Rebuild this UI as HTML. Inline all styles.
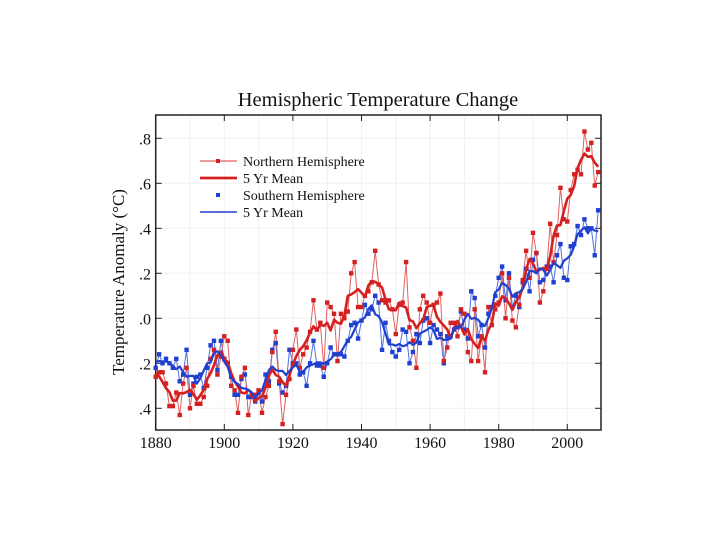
<!DOCTYPE html>
<html><head><meta charset="utf-8"><style>
body{margin:0;background:#fff;}
svg text{font-family:"Liberation Serif",serif;fill:#111;}
</style></head><body>
<svg id="chart" width="720" height="540" xmlns="http://www.w3.org/2000/svg">
<text x="378" y="106" text-anchor="middle" font-size="20.5">Hemispheric Temperature Change</text>
<text transform="translate(124,282) rotate(-90)" text-anchor="middle" font-size="17">Temperature Anomaly (°C)</text>
<g id="grid"></g>
<g id="axes"></g>
<g id="series"></g>
<g>
<line x1="200" y1="161" x2="237" y2="161" stroke="#e06060" stroke-width="1.2"/>
<rect x="216" y="159" width="4" height="4" fill="#d42020"/>
<text x="243" y="166" font-size="14">Northern Hemisphere</text>
<line x1="200" y1="178" x2="237" y2="178" stroke="#d42020" stroke-width="2.8"/>
<text x="243" y="183" font-size="14">5  Yr Mean</text>
<rect x="216" y="193" width="4" height="4" fill="#2040d0"/>
<text x="243" y="200" font-size="14">Southern Hemisphere</text>
<line x1="200" y1="212" x2="237" y2="212" stroke="#2040d0" stroke-width="1.6"/>
<text x="243" y="217" font-size="14">5  Yr Mean</text>
</g>
</svg>
<script>
const startYear = 1880;
const northValues = [-0.26,-0.24,-0.24,-0.29,-0.39,-0.39,-0.33,-0.43,-0.29,-0.22,
-0.40,-0.30,-0.38,-0.38,-0.35,-0.30,-0.18,-0.14,-0.25,-0.17,
-0.08,-0.10,-0.30,-0.32,-0.42,-0.26,-0.22,-0.43,-0.34,-0.34,
-0.32,-0.42,-0.35,-0.30,-0.15,-0.06,-0.28,-0.47,-0.34,-0.27,
-0.14,-0.05,-0.22,-0.16,-0.13,-0.06,0.08,-0.05,-0.02,-0.22,
0.07,0.05,0.02,-0.19,0.02,0.00,0.03,0.20,0.25,0.05,
0.05,0.10,0.12,0.16,0.30,0.15,0.08,0.07,0.08,0.04,
-0.07,0.06,0.07,0.25,-0.04,-0.10,-0.22,0.04,0.10,0.07,
-0.02,0.06,0.07,0.11,-0.19,-0.13,-0.02,-0.02,-0.08,0.04,
0.02,-0.15,-0.19,0.04,-0.19,-0.08,-0.24,0.05,-0.03,0.04,
0.07,0.20,0.00,0.18,-0.01,-0.04,0.06,0.17,0.30,0.18,
0.38,0.29,0.07,0.12,0.22,0.42,0.25,0.37,0.58,0.44,
0.43,0.57,0.64,0.66,0.64,0.83,0.75,0.78,0.59,0.65];
const southValues = [-0.22,-0.16,-0.20,-0.18,-0.20,-0.22,-0.18,-0.28,-0.25,-0.14,
-0.34,-0.29,-0.26,-0.25,-0.31,-0.22,-0.12,-0.10,-0.23,-0.10,
-0.18,-0.20,-0.26,-0.34,-0.34,-0.27,-0.25,-0.35,-0.35,-0.37,
-0.33,-0.37,-0.25,-0.28,-0.14,-0.11,-0.29,-0.33,-0.30,-0.14,
-0.20,-0.20,-0.25,-0.24,-0.30,-0.20,-0.10,-0.21,-0.21,-0.26,
-0.20,-0.13,-0.16,-0.16,-0.16,-0.17,-0.10,-0.03,-0.02,-0.09,
-0.01,0.06,0.02,0.04,0.10,0.07,-0.14,-0.02,-0.10,-0.15,
-0.17,-0.14,-0.05,-0.06,-0.20,-0.15,-0.07,-0.11,-0.01,0.00,
-0.11,-0.03,-0.05,-0.07,-0.20,-0.08,-0.08,-0.05,-0.04,0.03,
-0.05,-0.09,0.12,0.09,-0.08,-0.03,-0.13,0.02,0.05,0.10,
0.18,0.23,0.08,0.20,0.05,0.10,0.05,0.16,0.22,0.12,
0.26,0.29,0.16,0.17,0.23,0.23,0.16,0.28,0.33,0.18,
0.17,0.32,0.33,0.41,0.37,0.44,0.40,0.40,0.28,0.48];
const xTicks = [1880,1900,1920,1940,1960,1980,2000];
const yTicks = [0.8,0.6,0.4,0.2,0.0,-0.2,-0.4];
const yTickLabels = [".8",".6",".4",".2",".0",".2",".4"];

const NS="http://www.w3.org/2000/svg";
const X0=155.7,X1=601,Y0=115,Y1=430;
const xs=y=>X0+(y-1880)*3.43;
const ys=v=>318.3-v*225;
function mk(tag,attrs,parent){const e=document.createElementNS(NS,tag);for(const k in attrs)e.setAttribute(k,attrs[k]);parent.appendChild(e);return e;}
const grid=document.getElementById('grid'),axes=document.getElementById('axes'),series=document.getElementById('series');
for(let y=1890;y<=2000;y+=10){const l=mk('line',{x1:xs(y),x2:xs(y),y1:Y0,y2:Y1,stroke:'#f0f0f0','stroke-width':1},grid);

}
yTicks.forEach((v,i)=>{const l=mk('line',{x1:X0,x2:X1,y1:ys(v),y2:ys(v),stroke:'#f0f0f0','stroke-width':1},grid);


mk('line',{x1:X0,x2:X0+6,y1:ys(v),y2:ys(v),stroke:'#222'},axes);
mk('line',{x1:X1-6,x2:X1,y1:ys(v),y2:ys(v),stroke:'#222'},axes);
const t=mk('text',{x:151,y:ys(v)+6,'text-anchor':'end','font-size':16},axes);t.textContent=yTickLabels[i];

});
xTicks.forEach(y=>{mk('line',{x1:xs(y),x2:xs(y),y1:Y1,y2:Y1-6,stroke:'#222'},axes);
mk('line',{x1:xs(y),x2:xs(y),y1:Y0,y2:Y0+6,stroke:'#222'},axes);
const t=mk('text',{x:xs(y),y:448,'text-anchor':'middle','font-size':16},axes);t.textContent=y;

});
const fr=mk('rect',{x:X0,y:Y0,width:X1-X0,height:Y1-Y0,fill:'none',stroke:'#222','stroke-width':1.5},axes);


function mean5(a){return a.map((_,i)=>{let s=0,n=0;for(let j=i-2;j<=i+2;j++)if(j>=0&&j<a.length){s+=a[j];n++;}return s/n;});}
function path(a,color,w,name){const d=a.map((v,i)=>(i?'L':'M')+xs(startYear+i).toFixed(1)+' '+ys(v).toFixed(1)).join(' ');
const p=mk('path',{d:d,fill:'none',stroke:color,'stroke-width':w,'stroke-linejoin':'round'},series);

}
function pts(a,color,name){a.forEach((v,i)=>{const r=mk('rect',{x:xs(startYear+i)-2.2,y:ys(v)-2.2,width:4.4,height:4.4,fill:color},series);

});}
path(southValues,'#5070e0',1,'southern-annual-line');
path(northValues,'#e06060',1,'northern-annual-line');
pts(southValues,'#2040d0','southern-point');
pts(northValues,'#d42020','northern-point');
path(mean5(northValues),'#d42020',2.6,'northern-5yr-mean');
path(mean5(southValues),'#2040d0',2.2,'southern-5yr-mean');
</script>
</body></html>
